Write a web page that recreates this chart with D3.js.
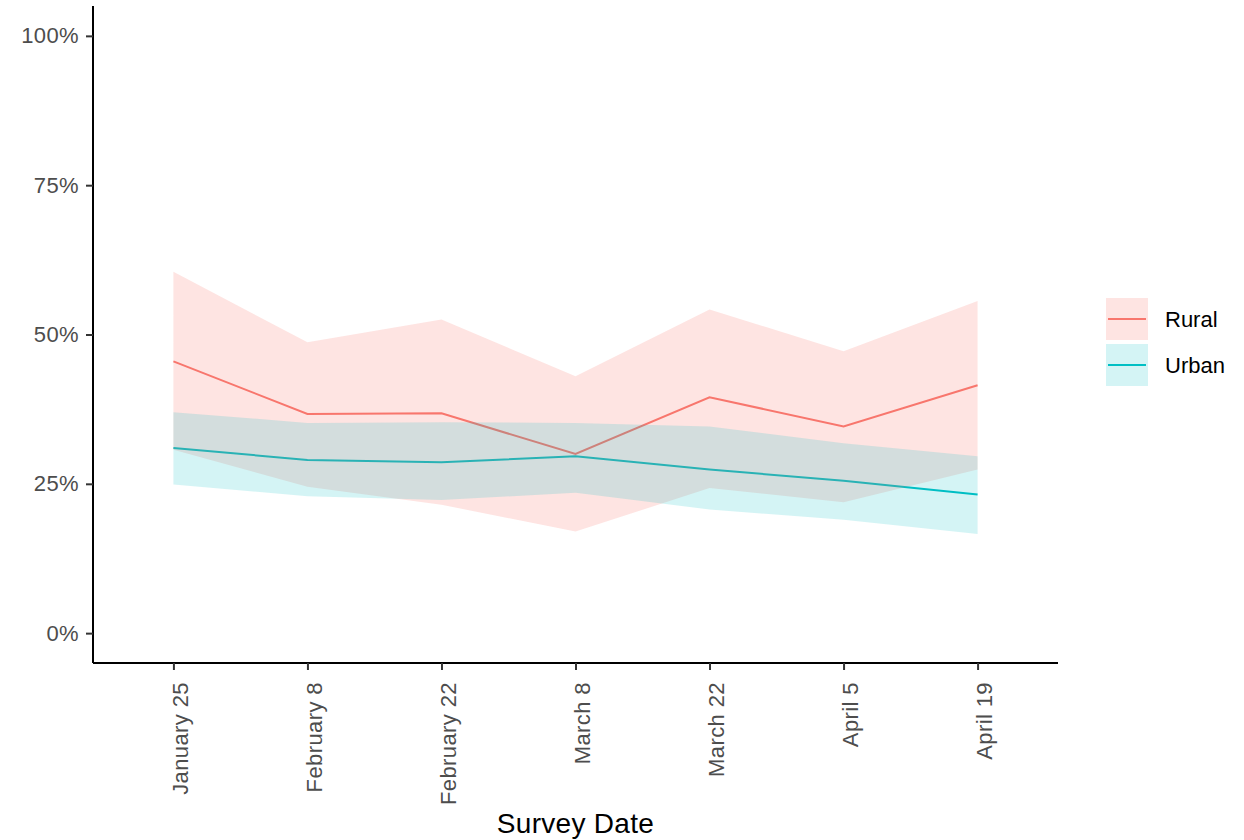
<!DOCTYPE html>
<html>
<head>
<meta charset="utf-8">
<script src="https://cdnjs.cloudflare.com/ajax/libs/d3/7.8.5/d3.min.js"></script>
<style>
  body { margin: 0; background: #fff; }
  text { font-family: "Liberation Sans", Arial, sans-serif; }
</style>
</head>
<body>
<div id="chart"></div>
<script>
// survey data (share)
var dates = ["January 25", "February 8", "February 22", "March 8", "March 22", "April 5", "April 19"];
var groups = ["Rural", "Urban"];

var rural_mean  = [0.455, 0.367, 0.368, 0.300, 0.395, 0.346, 0.415];
var rural_upper = [0.605, 0.487, 0.525, 0.430, 0.542, 0.472, 0.556];
var rural_lower = [0.307, 0.245, 0.215, 0.170, 0.243, 0.219, 0.274];

var urban_mean  = [0.310, 0.290, 0.286, 0.296, 0.274, 0.255, 0.232];
var urban_upper = [0.370, 0.352, 0.353, 0.352, 0.346, 0.318, 0.296];
var urban_lower = [0.249, 0.229, 0.223, 0.235, 0.207, 0.190, 0.166];

var y_ticks = [0, 0.25, 0.5, 0.75, 1];

var colors = ["#F8766D", "#00BFC4"];
var ribbon_alpha = [0.2, 0.17];

var svg = d3.select("#chart").append("svg")
  .attr("width", 1244)
  .attr("height", 840);

var margin = {top: 6, right: 186, bottom: 177, left: 93},
  width = 1244 - margin.left - margin.right,
  height = 840 - margin.top - margin.bottom;

var g = svg.append("g").attr("transform", "translate(" + margin.left + "," + margin.top + ")");

var x = d3.scalePoint()
  .domain(dates)
  .range([0, width])
  .padding(0.6);

var y = d3.scaleLinear()
  .domain([-0.05, 1.05])
  .range([height, 0]);

var z = d3.scaleOrdinal().domain(groups).range(colors);
var za = d3.scaleOrdinal().domain(groups).range(ribbon_alpha);

var series = [
  {key: "Rural", mean: rural_mean, lo: rural_lower, hi: rural_upper},
  {key: "Urban", mean: urban_mean, lo: urban_lower, hi: urban_upper}
];

var line = d3.line()
  .x(function(d, i) { return x(dates[i]); })
  .y(function(d) { return y(d); });

var area = function(s) {
  return d3.area()
    .x(function(d, i) { return x(dates[i]); })
    .y0(function(d, i) { return y(s.lo[i]); })
    .y1(function(d, i) { return y(s.hi[i]); })(s.mean);
};

// lines go first, ribbons are painted over them
g.append("g")
  .selectAll("path")
  .data(series)
  .enter().append("path")
    .attr("fill", "none")
    .attr("stroke", function(d) { return z(d.key); })
    .attr("stroke-width", 2)
    .attr("d", function(d) { return line(d.mean); });

g.append("g")
  .selectAll("path")
  .data(series)
  .enter().append("path")
    .attr("fill", function(d) { return z(d.key); })
    .attr("fill-opacity", function(d) { return za(d.key); })
    .attr("d", area);

//axes
var xAxis = g.append("g")
  .attr("transform", "translate(0," + height + ")")
  .call(d3.axisBottom(x).tickSizeOuter(0).tickSize(7).tickPadding(0));

xAxis.select(".domain").attr("stroke", "#000").attr("stroke-width", 2)
  .attr("d", "M0,0H" + width);
xAxis.selectAll(".tick line").attr("stroke", "#333").attr("stroke-width", 2);
xAxis.selectAll("text")
  .attr("fill", "#4d4d4d")
  .attr("font-size", 22)
  .attr("letter-spacing", 0.4)
  .style("text-anchor", "end")
  .attr("dy", null)
  .attr("x", -19)
  .attr("y", 14)
  .attr("transform", "rotate(-90)");

var yAxis = g.append("g")
  .call(d3.axisLeft(y).tickValues(y_ticks).tickFormat(d3.format(".0%")).tickSizeOuter(0).tickSize(7).tickPadding(7));

yAxis.select(".domain").attr("stroke", "#000").attr("stroke-width", 2)
  .attr("d", "M0,0V" + height);
yAxis.selectAll(".tick line").attr("stroke", "#333").attr("stroke-width", 2);
yAxis.selectAll("text")
  .attr("fill", "#4d4d4d")
  .attr("font-size", 22)
  .attr("letter-spacing", 0.4);

g.append("text")
  .attr("x", width / 2)
  .attr("y", 827)
  .attr("text-anchor", "middle")
  .attr("font-size", 28)
  .attr("letter-spacing", 0.3)
  .attr("fill", "#000")
  .text("Survey Date");

//legend
var legend = svg.append("g")
  .selectAll("g")
  .data(groups)
  .enter().append("g")
    .attr("transform", function(d, i) { return "translate(1106," + (298 + i * 46) + ")"; });

legend.append("rect")
  .attr("width", 42)
  .attr("height", 42)
  .attr("fill", z)
  .attr("fill-opacity", za);

legend.append("line")
  .attr("x1", 2)
  .attr("x2", 40)
  .attr("y1", 21)
  .attr("y2", 21)
  .attr("stroke", z)
  .attr("stroke-width", 2);

legend.append("text")
  .attr("x", 59)
  .attr("y", 21)
  .attr("dy", "0.35em")
  .attr("font-size", 22)
  .attr("fill", "#000")
  .text(function(d) { return d; });
</script>
</body>
</html>
